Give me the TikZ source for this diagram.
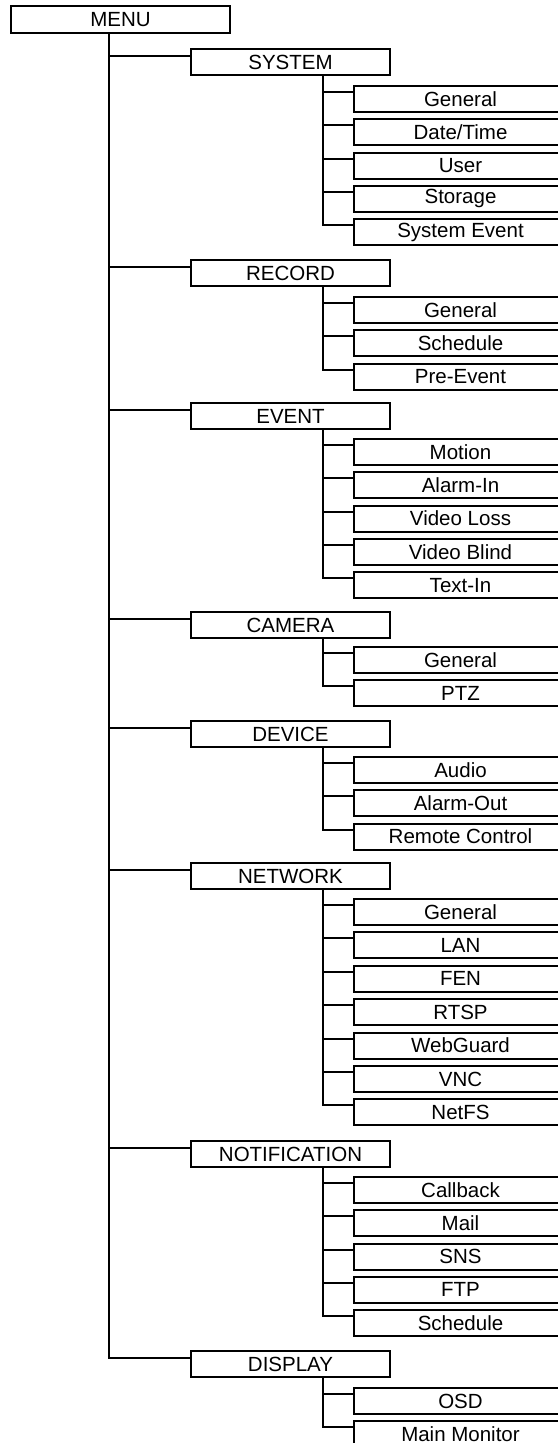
\documentclass[tikz,border=0pt]{standalone}
\usepackage{fontspec}
\setmainfont{Liberation Sans}
\usetikzlibrary{positioning}

\begin{document}
\begin{tikzpicture}[x=1bp,y=-1bp,
    font=\fontsize{20.5bp}{24bp}\selectfont,
    line width=2bp,
    menubox/.style={draw,anchor=north west,inner sep=0pt,minimum height=26bp},
    catbox/.style={menubox,minimum width=199bp},
    leafbox/.style={menubox,minimum width=213bp}]
    \clip (0,0) rectangle (558,1443);

    % root and main trunk
    \node[menubox,minimum width=219bp,minimum height=27bp] (menu) at (10,5) {MENU};
    \coordinate (trunk) at ([xshift=98.5bp]menu.south west);

    % SYSTEM
    \node[catbox] (system) at (190,48) {SYSTEM};
    \foreach \txt [count=\i] in {General,{Date/Time},User,Storage,System Event}
      \node[leafbox] (system-\i) at (353,{85+33.3*(\i-1)}) {\txt};
    \coordinate (system-bus) at ([xshift=133bp]system.south west);
    \foreach \i in {1,...,5}
      \draw (system-bus) |- ([yshift=-7bp]system-\i.north west);

    % RECORD
    \node[catbox] (record) at (190,259) {RECORD};
    \foreach \txt [count=\i] in {General,Schedule,Pre-Event}
      \node[leafbox] (record-\i) at (353,{296+33.3*(\i-1)}) {\txt};
    \coordinate (record-bus) at ([xshift=133bp]record.south west);
    \foreach \i in {1,...,3}
      \draw (record-bus) |- ([yshift=-7bp]record-\i.north west);

    % EVENT
    \node[catbox] (event) at (190,402) {EVENT};
    \foreach \txt [count=\i] in {Motion,Alarm-In,Video Loss,Video Blind,Text-In}
      \node[leafbox] (event-\i) at (353,{438+33.3*(\i-1)}) {\txt};
    \coordinate (event-bus) at ([xshift=133bp]event.south west);
    \foreach \i in {1,...,5}
      \draw (event-bus) |- ([yshift=-7bp]event-\i.north west);

    % CAMERA
    \node[catbox] (camera) at (190,611) {CAMERA};
    \foreach \txt [count=\i] in {General,PTZ}
      \node[leafbox] (camera-\i) at (353,{646+33.3*(\i-1)}) {\txt};
    \coordinate (camera-bus) at ([xshift=133bp]camera.south west);
    \foreach \i in {1,2}
      \draw (camera-bus) |- ([yshift=-7bp]camera-\i.north west);

    % DEVICE
    \node[catbox] (device) at (190,720) {DEVICE};
    \foreach \txt [count=\i] in {Audio,Alarm-Out,Remote Control}
      \node[leafbox] (device-\i) at (353,{756+33.3*(\i-1)}) {\txt};
    \coordinate (device-bus) at ([xshift=133bp]device.south west);
    \foreach \i in {1,...,3}
      \draw (device-bus) |- ([yshift=-7bp]device-\i.north west);

    % NETWORK
    \node[catbox] (network) at (190,862) {NETWORK};
    \foreach \txt [count=\i] in {General,LAN,FEN,RTSP,WebGuard,VNC,NetFS}
      \node[leafbox] (network-\i) at (353,{898+33.4*(\i-1)}) {\txt};
    \coordinate (network-bus) at ([xshift=133bp]network.south west);
    \foreach \i in {1,...,7}
      \draw (network-bus) |- ([yshift=-7bp]network-\i.north west);

    % NOTIFICATION
    \node[catbox] (notification) at (190,1140) {NOTIFICATION};
    \foreach \txt [count=\i] in {Callback,Mail,SNS,FTP,Schedule}
      \node[leafbox] (notification-\i) at (353,{1176+33.3*(\i-1)}) {\txt};
    \coordinate (notification-bus) at ([xshift=133bp]notification.south west);
    \foreach \i in {1,...,5}
      \draw (notification-bus) |- ([yshift=-7bp]notification-\i.north west);

    % DISPLAY
    \node[catbox] (display) at (190,1350) {DISPLAY};
    \foreach \txt [count=\i] in {OSD,Main Monitor}
      \node[leafbox] (display-\i) at (353,{1387+33.3*(\i-1)}) {\txt};
    \coordinate (display-bus) at ([xshift=133bp]display.south west);
    \foreach \i in {1,2}
      \draw (display-bus) |- ([yshift=-7bp]display-\i.north west);

    % branches off the main trunk
    \foreach \cat in {system,record,event,camera,device,network,notification,display}
      \draw (trunk) |- ([yshift=-8bp]\cat.north west);
  \end{tikzpicture}
\end{document}
